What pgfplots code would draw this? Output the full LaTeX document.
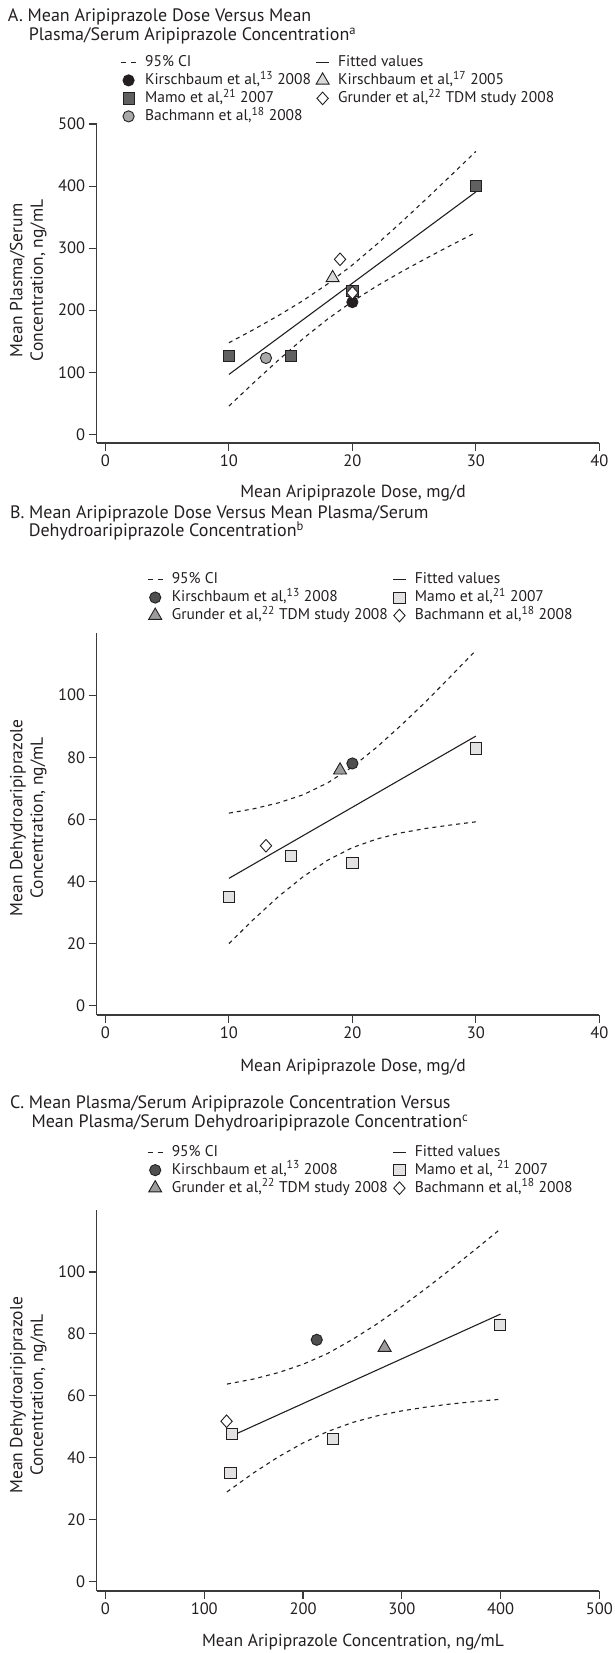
\documentclass[border=0pt]{standalone}
\usepackage{pgfplots}
\pgfplotsset{compat=1.18}
\usepackage{fontspec}
\setmainfont{PT Sans}
\newcommand\sups[1]{\textsuperscript{\fontsize{11.5}{11.5}\selectfont #1}}
\definecolor{txt}{HTML}{231F20}
\definecolor{axc}{HTML}{3A3A3A}
\definecolor{mamoA}{HTML}{606060}
\definecolor{bachA}{HTML}{A8A8A8}
\definecolor{kA}{HTML}{D9D9D9}
\definecolor{kB}{HTML}{4F4F4F}
\definecolor{mamoB}{HTML}{E2E2E2}
\definecolor{grB}{HTML}{9C9C9C}

\pgfplotstableread{
x y
10 147.5
12 168.8
14 191.2
16 215.4
18 242.4
20 272.9
22 306.6
24 342.4
26 379.6
28 417.4
30 455.8
}\upA
\pgfplotstableread{
x y
10 45.5
12 83.0
14 119.4
16 154.0
18 185.8
20 214.1
22 239.2
24 262.2
26 283.8
28 304.8
30 325.2
}\loA
\pgfplotstableread{
x y
10 62.0
12 63.4
14 65.3
16 67.9
18 71.75
20 76.9
22 83.3
24 90.5
26 98.1
28 106.2
30 114.4
}\upB
\pgfplotstableread{
x y
10 20.0
12 27.8
14 35.1
16 41.5
18 46.85
20 50.9
22 53.7
24 55.7
26 57.1
28 58.2
30 59.2
}\loB
\pgfplotstableread{
x y
123 63.8
150 65.45
175 67.5
200 70.2
225 73.7
250 78.2
275 83.25
300 88.85
325 94.8
350 101.0
375 107.4
400 113.9
}\upC
\pgfplotstableread{
x y
123 29.0
150 35.15
175 40.3
200 44.8
225 48.5
250 51.4
275 53.55
300 55.15
325 56.4
350 57.4
375 58.2
400 58.9
}\loC

\pgfplotsset{
  common/.style={
    scale only axis, width=502.6pt,
    axis x line*=bottom, axis y line*=left,
    axis line style={-, axc, line width=1.1pt},
    tick align=outside, major tick length=8pt,
    tick style={axc, line width=1.1pt},
    /pgf/number format/assume math mode=true,
    ticklabel style={font=\fontsize{16.5}{19}\selectfont, text=txt},
    label style={font=\fontsize{17.5}{20.5}\selectfont, text=txt},
    ylabel style={align=center, anchor=center},
    xlabel style={anchor=center},
    legend columns=2,
    legend cell align=left,
    legend style={draw=none, fill=none, anchor=north west, inner sep=0pt,
      font=\fontsize{15.5}{17}\selectfont, text=txt,
      nodes={inner sep=1.5pt, text height=11.5pt, text depth=3.5pt},
      /tikz/every odd column/.append style={column sep=7pt}},
  },
  ciline/.style={txt, line width=1.1pt, dash pattern=on 4pt off 4pt},
  fitline/.style={txt, line width=1.1pt},
  ciL/.style={legend image code/.code={\draw[txt, line width=1.1pt, dash pattern=on 5pt off 5pt] (0pt,0pt) -- (15pt,0pt);}},
  fitL/.style={legend image code/.code={\draw[txt, line width=1.1pt] (1pt,0pt) -- (14pt,0pt);}},
  mkL/.style={legend image code/.code={\draw[only marks] plot coordinates {(7.5pt,0pt)};}},
  mcirc/.style={only marks, mark=*, mark size=5.6pt, mark options={draw=txt, fill=#1, line width=0.9pt, solid}},
  msq/.style={only marks, mark=square*, mark size=5.6pt, mark options={draw=txt, fill=#1, line width=0.9pt, solid}},
  mtri/.style={only marks, mark=triangle*, mark size=7.5pt, mark options={draw=txt, fill=#1, line width=0.9pt, solid}},
  mdia/.style={only marks, mark=diamond*, mark size=6.3pt, mark options={draw=txt, fill=#1, line width=0.9pt, solid, xscale=1.2}},
}

\begin{document}
\begin{tikzpicture}
\useasboundingbox (0pt,0pt) rectangle (615pt,-1653pt);

% ---------- Panel A titles
\node[anchor=base west, inner sep=0pt, font=\fontsize{18}{20}\selectfont, text=txt] at (7.8pt,-22pt) {A. Mean Aripiprazole Dose Versus Mean};
\node[anchor=base west, inner sep=0pt, font=\fontsize{18}{20}\selectfont, text=txt] at (28.6pt,-41pt) {Plasma/Serum Aripiprazole Concentration\textsuperscript{a}};

\begin{axis}[common,
  at={(96.7pt,-443pt)}, anchor=south west, height=319pt,
  xmin=-0.71, xmax=40, ymin=-14, ymax=500,
  xtick={0,10,20,30,40}, ytick={0,100,200,300,400,500},
  xlabel={Mean Aripiprazole Dose, mg/d},
  ylabel={Mean Plasma/Serum\\Concentration, ng/mL},
  xlabel style={at={(axis description cs:0.51,-0.157)}},
  ylabel style={at={(axis description cs:-0.136,0.51)}},
  legend style={at={(axis description cs:0.047,1.222)},
    /tikz/every even column/.append style={column sep=3pt}},
]
\addplot[ciline, forget plot] table {\upA};
\addplot[ciline, forget plot] table {\loA};
\addplot[fitline, forget plot] coordinates {(10,96.5) (30,390.5)};
\addplot[msq=mamoA, forget plot] coordinates {(10,126.5) (15,126.5) (20,231) (30,400)};
\addplot[mcirc=txt, forget plot] coordinates {(20,213)};
\addplot[mcirc=bachA, forget plot] coordinates {(13,123)};
\addplot[mtri=kA, forget plot] coordinates {(18.4,252)};
\addplot[mdia=white, forget plot] coordinates {(19,282) (20,228)};

\addlegendimage{ciL}\addlegendentry{95\% CI}
\addlegendimage{fitL}\addlegendentry{Fitted values}
\addlegendimage{mkL, mcirc=txt}\addlegendentry{Kirschbaum et al,\sups{13} 2008}
\addlegendimage{mkL, mtri=kA}\addlegendentry{Kirschbaum et al,\sups{17} 2005}
\addlegendimage{mkL, msq=mamoA}\addlegendentry{Mamo et al,\sups{21} 2007}
\addlegendimage{mkL, mdia=white}\addlegendentry{Grunder et al,\sups{22} TDM study 2008}
\addlegendimage{mkL, mcirc=bachA}\addlegendentry{Bachmann et al,\sups{18} 2008}
\end{axis}

% ---------- Panel B titles
\node[anchor=base west, inner sep=0pt, font=\fontsize{18}{20}\selectfont, text=txt] at (9.8pt,-518.3pt) {B. Mean Aripiprazole Dose Versus Mean Plasma/Serum};
\node[anchor=base west, inner sep=0pt, font=\fontsize{18}{20}\selectfont, text=txt] at (28.6pt,-536.7pt) {Dehydroaripiprazole Concentration\textsuperscript{b}};

\begin{axis}[common,
  at={(96.7pt,-1015pt)}, anchor=south west, height=382pt,
  xmin=-0.71, xmax=40, ymin=-3, ymax=120,
  xtick={0,10,20,30,40}, ytick={0,20,40,60,80,100},
  xlabel={Mean Aripiprazole Dose, mg/d},
  ylabel={Mean Dehydroaripiprazole\\Concentration, ng/mL},
  xlabel style={at={(axis description cs:0.51,-0.136)}},
  ylabel style={at={(axis description cs:-0.136,0.516)}},
  legend style={at={(axis description cs:0.1,1.164)},
    /tikz/every even column/.append style={column sep=3pt}},
]
\addplot[ciline, forget plot] table {\upB};
\addplot[ciline, forget plot] table {\loB};
\addplot[fitline, forget plot] coordinates {(10,41) (30,86.8)};
\addplot[msq=mamoB, forget plot] coordinates {(10,35.1) (15,48.1) (20,46) (30,82.8)};
\addplot[mtri=grB, forget plot] coordinates {(19,75.8)};
\addplot[mcirc=kB, forget plot] coordinates {(20,78)};
\addplot[mdia=white, forget plot] coordinates {(13,51.5)};

\addlegendimage{ciL}\addlegendentry{95\% CI}
\addlegendimage{fitL}\addlegendentry{Fitted values}
\addlegendimage{mkL, mcirc=kB}\addlegendentry{Kirschbaum et al,\sups{13} 2008}
\addlegendimage{mkL, msq=mamoB}\addlegendentry{Mamo et al,\sups{21} 2007}
\addlegendimage{mkL, mtri=grB}\addlegendentry{Grunder et al,\sups{22} TDM study 2008}
\addlegendimage{mkL, mdia=white}\addlegendentry{Bachmann et al,\sups{18} 2008}
\end{axis}

% ---------- Panel C titles
\node[anchor=base west, inner sep=0pt, font=\fontsize{18}{20}\selectfont, text=txt] at (9.8pt,-1108.3pt) {C. Mean Plasma/Serum Aripiprazole Concentration Versus};
\node[anchor=base west, inner sep=0pt, font=\fontsize{18}{20}\selectfont, text=txt] at (31.4pt,-1127.3pt) {Mean Plasma/Serum Dehydroaripiprazole Concentration\textsuperscript{c}};

\begin{axis}[common,
  at={(96.7pt,-1591pt)}, anchor=south west, height=381pt,
  xmin=-8.9, xmax=500, ymin=-3, ymax=120,
  xtick={0,100,200,300,400,500}, ytick={0,20,40,60,80,100},
  xlabel={Mean Aripiprazole Concentration, ng/mL},
  ylabel={Mean Dehydroaripiprazole\\Concentration, ng/mL},
  xlabel style={at={(axis description cs:0.51,-0.134)}},
  ylabel style={at={(axis description cs:-0.136,0.514)}},
  legend style={at={(axis description cs:0.1,1.176)},
    /tikz/every even column/.append style={column sep=3pt}},
]
\addplot[ciline, forget plot] table {\upC};
\addplot[ciline, forget plot] table {\loC};
\addplot[fitline, forget plot] coordinates {(123,46.4) (400,86.4)};
\addplot[msq=mamoB, forget plot] coordinates {(126.5,35) (127.8,47.8) (230.2,46.1) (399.6,82.8)};
\addplot[mcirc=kB, forget plot] coordinates {(213.9,78.1)};
\addplot[mtri=grB, forget plot] coordinates {(282.6,75.6)};
\addplot[mdia=white, forget plot] coordinates {(122.6,51.8)};

\addlegendimage{ciL}\addlegendentry{95\% CI}
\addlegendimage{fitL}\addlegendentry{Fitted values}
\addlegendimage{mkL, mcirc=kB}\addlegendentry{Kirschbaum et al,\sups{13} 2008}
\addlegendimage{mkL, msq=mamoB}\addlegendentry{Mamo et al, \sups{21} 2007}
\addlegendimage{mkL, mtri=grB}\addlegendentry{Grunder et al,\sups{22} TDM study 2008}
\addlegendimage{mkL, mdia=white}\addlegendentry{Bachmann et al,\sups{18} 2008}
\end{axis}
\end{tikzpicture}
\end{document}
